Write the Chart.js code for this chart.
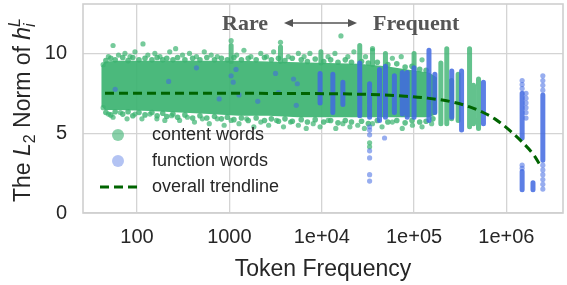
<!DOCTYPE html>
<html>
<head>
<meta charset="utf-8">
<script src="https://cdn.jsdelivr.net/npm/chart.js@4.4.0/dist/chart.umd.min.js"></script>
<style>
  body { margin: 0; background: #fff; }
  #wrap { width: 567px; height: 285px; }
</style>
</head>
<body>
<div id="wrap"><canvas id="normChart"></canvas></div>
<script>
// axis ticks
const xTicks = [100, 1000, 1e4, 1e5, 1e6];
const xTickLabels = ['100', '1000', '1e+04', '1e+05', '1e+06'];
const yTicks = [0, 5, 10];

// overall trendline: token frequency -> norm
const trendFreq = [45, 300, 1000, 5000, 20000, 45000, 80000, 140000, 250000, 400000, 560000, 750000, 1000000, 1480000, 2000000, 2400000];
const trendNorm = [7.5, 7.5, 7.5, 7.49, 7.46, 7.4, 7.32, 7.2, 6.98, 6.65, 6.3, 5.9, 5.35, 4.45, 3.6, 2.85];

// dense body of the content words cloud (lower / upper edge)
const bandFreq = [41, 45, 63, 138, 289, 606, 1271, 2663, 5585, 11720, 25000, 50000, 84300, 145000, 177000];
const bandLow  = [6.7, 6.45, 6.45, 6.4, 6.3, 6.2, 6.1, 6.1, 6.0, 6.0, 6.0, 6.0, 6.0, 6.0, 6.2];
const bandHigh = [9.2, 9.5, 9.55, 9.55, 9.55, 9.55, 9.55, 9.5, 9.45, 9.4, 9.35, 9.2, 9.0, 8.8, 8.5];

// content words sitting off the body [freq, norm]
const contentDots = [
  [43, 9.3], [49, 9.8], [55, 10.5], [63, 9.9], [74, 10.0], [84, 9.8], [95, 10.1], [116, 10.6], [131, 9.9],
  [156, 10.0], [177, 9.8], [226, 10.1], [262, 10.3], [311, 9.9], [370, 10.0], [440, 9.8], [535, 10.1],
  [636, 9.9], [740, 9.8], [1045, 10.8], [1200, 9.9], [1438, 10.2], [1710, 9.8], [2188, 10.0], [2530, 9.8],
  [3013, 10.1], [3580, 10.7], [4350, 9.8], [5585, 10.0], [6440, 9.8], [7450, 10.0], [11720, 9.8],
  [13900, 10.0], [16150, 11.1], [19170, 9.8], [22300, 10.1], [29800, 9.8], [35500, 10.3], [58200, 9.7],
  [72600, 9.8], [122000, 9.6],
  [43, 6.6], [49, 6.2], [55, 6.0], [66, 6.3], [78, 5.9], [95, 6.2], [113, 5.9], [138, 6.2], [164, 5.9],
  [200, 5.8], [237, 6.1], [289, 5.8], [351, 6.0], [419, 5.7], [510, 5.9], [606, 5.6], [740, 5.9], [878, 5.5],
  [1045, 5.8], [1271, 5.6], [1540, 5.9], [1841, 5.4], [2188, 5.7], [2663, 5.5], [3240, 5.8], [3855, 5.4],
  [4600, 5.7], [5585, 5.5], [6800, 5.3], [8090, 5.6], [9600, 5.4], [11720, 5.8], [14200, 5.3], [16950, 5.6],
  [20200, 5.4], [24550, 5.5], [29000, 5.3], [33000, 4.4], [33000, 4.15], [35500, 5.6], [45000, 5.4],
  [58200, 5.7], [74500, 5.3], [96000, 5.5], [122000, 5.4], [155000, 5.6]
];
// content words along the rim of the body [freq, norm]
const contentRim = [
  [46, 9.55], [52, 9.7], [58, 9.6], [70, 9.75], [80, 9.55], [90, 9.75], [105, 9.6], [122, 9.7], [145, 9.6],
  [165, 9.75], [190, 9.6], [210, 9.7], [245, 9.6], [275, 9.75], [330, 9.6], [400, 9.7], [480, 9.6],
  [570, 9.75], [690, 9.6], [820, 9.7], [950, 9.6], [1120, 9.75], [1350, 9.6], [1600, 9.7], [1950, 9.6],
  [2400, 9.75], [2850, 9.6], [3400, 9.7], [4000, 9.55], [4800, 9.7], [6000, 9.6], [7000, 9.5], [8500, 9.65],
  [10500, 9.5], [12500, 9.6], [15000, 9.45], [18000, 9.6], [21000, 9.45], [27000, 9.5], [32000, 9.4],
  [40000, 9.45], [52000, 9.3], [65000, 9.35], [80000, 9.15], [95000, 9.2], [115000, 9.0], [135000, 8.95],
  [46, 6.3], [52, 6.15], [58, 6.35], [70, 6.2], [80, 6.35], [90, 6.1], [105, 6.3], [122, 6.15], [145, 6.3],
  [165, 6.1], [190, 6.25], [210, 6.05], [245, 6.2], [275, 6.0], [330, 6.15], [400, 5.95], [480, 6.1],
  [570, 5.95], [690, 6.05], [820, 5.9], [950, 6.0], [1120, 5.85], [1350, 5.95], [1600, 5.8], [1950, 5.95],
  [2400, 5.8], [2850, 5.9], [3400, 5.75], [4000, 5.9], [4800, 5.75], [6000, 5.85], [7000, 5.7], [8500, 5.85],
  [10500, 5.7], [12500, 5.8], [15000, 5.65], [18000, 5.8], [21000, 5.7], [27000, 5.75], [32000, 5.6],
  [40000, 5.8], [52000, 5.7], [65000, 5.8], [80000, 5.65], [95000, 5.8], [115000, 5.7], [135000, 5.75],
  [160000, 5.9]
];
// columns of content words [freq, lowest, highest]
const contentColumns = [
  [1045, 9.5, 10.5], [3580, 9.5, 10.4], [9800, 9.4, 10.1], [25800, 9.4, 10.5], [35500, 9.3, 10.2],
  [48980, 9.2, 10.0], [100000, 9.0, 10.0], [195000, 5.6, 9.4], [226000, 5.6, 10.3], [255000, 5.9, 8.3],
  [300000, 5.8, 8.7], [399000, 5.4, 10.3], [440000, 5.6, 8.0], [499000, 5.3, 8.4]
];

// columns of function words [freq, lowest, highest]
const functionColumns = [
  [9600, 6.9, 8.75], [13200, 6.3, 8.7], [16950, 6.8, 8.2], [25800, 6.1, 9.4], [33000, 6.0, 8.1],
  [42260, 5.8, 9.0], [48980, 6.0, 9.2], [61200, 6.3, 8.6], [74500, 6.2, 8.8], [84300, 6.0, 8.8],
  [100000, 6.0, 9.1], [145000, 5.8, 10.2], [168000, 6.3, 8.7], [256000, 6.0, 8.9], [327000, 5.2, 8.9],
  [564000, 5.6, 8.2], [1480000, 4.7, 7.5], [1480000, 1.45, 2.6], [1940000, 1.45, 1.9], [2480000, 3.3, 7.4]
];
// single function words [freq, norm]
const functionDots = [
  [58, 7.75], [220, 8.25], [440, 9.1], [776, 7.15], [1045, 8.6], [1180, 9.0], [1100, 8.2], [1271, 7.4],
  [2030, 7.0], [3160, 8.75], [3390, 7.55], [4950, 8.4], [5440, 8.1], [5300, 6.75],
  [33000, 5.4], [33000, 5.2], [33000, 4.9], [33000, 3.9], [33000, 3.45], [33000, 2.4], [33000, 2.0], [47900, 4.7],
  [1480000, 8.3], [1480000, 8.05], [1480000, 7.8], [1630000, 7.5], [1630000, 7.2], [1630000, 6.9],
  [1630000, 6.6], [1630000, 6.3], [1630000, 5.95], [1480000, 3.0], [1480000, 2.8],
  [2480000, 8.6], [2480000, 8.3], [2480000, 8.0], [2480000, 7.7], [2480000, 3.0], [2480000, 2.7],
  [2480000, 2.4], [2480000, 2.1], [2480000, 1.8], [2480000, 1.5]
];

const legendLabels = ['content words', 'function words', 'overall trendline'];

const GREEN = 'rgba(60, 179, 113, 0.7)';
const TEXT = '#262626';
const SANS = '"Liberation Sans", Arial, sans-serif';

function toPoints(list) {
    return list.map(p => ({ x: p[0], y: p[1] }));
}

// each column becomes a vertical segment, split by a null point
function toSegments(cols) {
    const pts = [];
    cols.forEach(c => {
        pts.push({ x: c[0], y: c[1] }, { x: c[0], y: c[2] }, { x: c[0], y: null });
    });
    return pts;
}

// plot frame, drawn under the data
const framePlugin = {
    id: 'frame',
    beforeDatasetsDraw(chart) {
        const { ctx, chartArea: a } = chart;
        ctx.save();
        ctx.strokeStyle = '#cfcfcf';
        ctx.lineWidth = 1.6;
        ctx.strokeRect(a.left, a.top, a.right - a.left, a.bottom - a.top);
        ctx.restore();
    }
};

// y title with math parts, legend, and the Rare <-> Frequent note
const overlayPlugin = {
    id: 'overlay',
    afterDraw(chart) {
        const ctx = chart.ctx;
        ctx.save();

        // y axis title: The L_2 Norm of h_i^L
        const parts = [
            { t: 'The ', f: '', s: 23, dy: 0 },
            { t: 'L', f: 'italic ', s: 23, dy: 0 },
            { t: '2', f: '', s: 16, dy: 5 },
            { t: ' Norm of ', f: '', s: 23, dy: 0 },
            { t: 'h', f: 'italic ', s: 23, dy: 0 },
            { t: 'i', f: 'italic ', s: 16, dy: 5, stay: true },
            { t: 'L', f: 'italic ', s: 16, dy: -10 }
        ];
        let total = 0;
        parts.forEach(p => {
            ctx.font = p.f + p.s + 'px ' + SANS;
            if (!p.stay) total += ctx.measureText(p.t).width;
        });
        ctx.translate(30, 110);
        ctx.rotate(-Math.PI / 2);
        ctx.fillStyle = TEXT;
        ctx.textBaseline = 'alphabetic';
        let x = -total / 2;
        parts.forEach(p => {
            ctx.font = p.f + p.s + 'px ' + SANS;
            ctx.fillText(p.t, x, p.dy);
            if (!p.stay) x += ctx.measureText(p.t).width;
        });
        ctx.setTransform(1, 0, 0, 1, 0, 0);

        // legend
        ctx.font = '18px ' + SANS;
        ctx.textBaseline = 'middle';
        ctx.fillStyle = 'rgba(60, 179, 113, 0.6)';
        ctx.beginPath(); ctx.arc(118, 135, 6, 0, Math.PI * 2); ctx.fill();
        ctx.fillStyle = 'rgba(65, 105, 225, 0.4)';
        ctx.beginPath(); ctx.arc(118, 161, 6, 0, Math.PI * 2); ctx.fill();
        ctx.strokeStyle = '#006400';
        ctx.lineWidth = 3;
        ctx.setLineDash([9, 5]);
        ctx.beginPath(); ctx.moveTo(100, 187); ctx.lineTo(138, 187); ctx.stroke();
        ctx.setLineDash([]);
        ctx.fillStyle = TEXT;
        ctx.fillText(legendLabels[0], 152, 135);
        ctx.fillText(legendLabels[1], 152, 161);
        ctx.fillText(legendLabels[2], 152, 187);

        // Rare <-> Frequent
        ctx.fillStyle = '#555';
        ctx.strokeStyle = '#555';
        ctx.font = 'bold 22px "Liberation Serif", "Times New Roman", serif';
        ctx.textBaseline = 'alphabetic';
        ctx.fillText('Rare', 222, 30);
        ctx.fillText('Frequent', 373, 30);
        ctx.lineWidth = 1.5;
        ctx.beginPath(); ctx.moveTo(290, 23); ctx.lineTo(351, 23); ctx.stroke();
        ctx.beginPath(); ctx.moveTo(284, 23); ctx.lineTo(293, 19); ctx.lineTo(293, 27); ctx.closePath(); ctx.fill();
        ctx.beginPath(); ctx.moveTo(357, 23); ctx.lineTo(348, 19); ctx.lineTo(348, 27); ctx.closePath(); ctx.fill();

        ctx.restore();
    }
};

const ctx = document.getElementById('normChart').getContext('2d');
const normChart = new Chart(ctx, {
    type: 'line',
    data: {
        datasets: [
            {
                label: 'overall trendline',
                data: trendFreq.map((f, i) => ({ x: f, y: trendNorm[i] })),
                borderColor: '#006400',
                borderWidth: 3,
                borderDash: [9, 5],
                pointRadius: 0,
                cubicInterpolationMode: 'monotone',
                order: 0
            },
            {
                label: 'function words',
                data: toPoints(functionDots),
                showLine: false,
                pointRadius: 2.6,
                pointBorderWidth: 0,
                pointBackgroundColor: 'rgba(65, 105, 225, 0.55)',
                order: 1
            },
            {
                label: 'function columns',
                data: toSegments(functionColumns),
                borderColor: 'rgba(65, 105, 225, 0.85)',
                borderWidth: 5,
                borderCapStyle: 'round',
                pointRadius: 0,
                spanGaps: false,
                order: 2
            },
            {
                label: 'content columns',
                data: toSegments(contentColumns),
                borderColor: 'rgba(60, 179, 113, 0.8)',
                borderWidth: 5,
                borderCapStyle: 'round',
                pointRadius: 0,
                spanGaps: false,
                order: 3
            },
            {
                label: 'content words',
                data: toPoints(contentDots),
                showLine: false,
                pointRadius: 2.6,
                pointBorderWidth: 0,
                pointBackgroundColor: GREEN,
                order: 4
            },
            {
                label: 'content rim',
                data: toPoints(contentRim),
                showLine: false,
                pointRadius: 2.8,
                pointBorderWidth: 0,
                pointBackgroundColor: 'rgba(60, 179, 113, 0.8)',
                order: 4
            },
            {
                label: 'body low',
                data: bandFreq.map((f, i) => ({ x: f, y: bandLow[i] })),
                borderColor: 'transparent',
                borderWidth: 0,
                pointRadius: 0,
                order: 7
            },
            {
                label: 'body high',
                data: bandFreq.map((f, i) => ({ x: f, y: bandHigh[i] })),
                borderColor: 'transparent',
                borderWidth: 0,
                pointRadius: 0,
                backgroundColor: 'rgba(60, 179, 113, 0.92)',
                fill: '-1',
                order: 6
            }
        ]
    },
    options: {
        responsive: true,
        maintainAspectRatio: false,
        animation: false,
        events: [],
        layout: { padding: { top: 3, right: 0, left: 0, bottom: 0 } },
        plugins: {
            legend: { display: false },
            tooltip: { enabled: false }
        },
        scales: {
            x: {
                type: 'logarithmic',
                min: 26,
                max: 4.1e6,
                afterBuildTicks: s => { s.ticks = xTicks.map(v => ({ value: v })); },
                afterFit: s => { s.height = 72; s.paddingLeft = 0; s.paddingRight = 0; },
                grid: { color: '#d4d4d4', lineWidth: 1.3, drawTicks: false },
                border: { display: false },
                ticks: {
                    color: TEXT,
                    font: { family: SANS, size: 20 },
                    padding: 12,
                    maxRotation: 0,
                    autoSkip: false,
                    callback: v => xTickLabels[xTicks.indexOf(v)]
                },
                title: {
                    display: true,
                    text: 'Token Frequency',
                    color: TEXT,
                    font: { family: SANS, size: 23 },
                    padding: { top: 0, bottom: 2 }
                }
            },
            y: {
                min: 0,
                max: 13.1,
                afterBuildTicks: s => { s.ticks = yTicks.map(v => ({ value: v })); },
                afterFit: s => { s.width = 83; s.paddingTop = 0; s.paddingBottom = 0; },
                grid: { color: '#d4d4d4', lineWidth: 1.3, drawTicks: false },
                border: { display: false },
                ticks: {
                    color: TEXT,
                    font: { family: SANS, size: 20 },
                    padding: 16
                }
            }
        }
    },
    plugins: [framePlugin, overlayPlugin]
});
</script>
</body>
</html>
